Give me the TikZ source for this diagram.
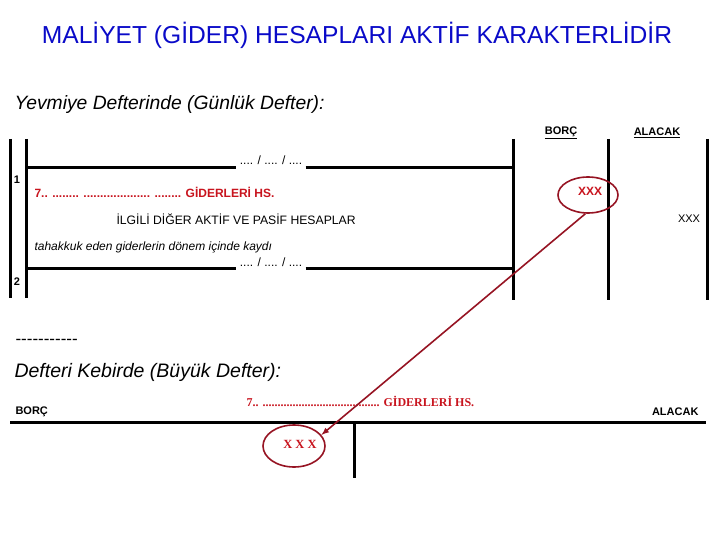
\documentclass[tikz,border=0pt]{standalone}
\usepackage{fontspec}
\setmainfont{Liberation Sans}
\newfontfamily\timesrm{Liberation Serif}
\usetikzlibrary{arrows,shapes,positioning}
\definecolor{titleblue}{RGB}{10,10,200}
\definecolor{hsred}{RGB}{200,20,30}
\definecolor{ovalred}{RGB}{150,20,35}
\tikzstyle{rule} = [line width=3pt]
\tikzstyle{oval} = [shape = ellipse, draw = ovalred, line width = 1.6pt, inner sep = 0pt]
\tikzstyle{head} = [font=\bfseries\fontsize{11}{13}\selectfont]
\tikzstyle{redHs} = [text = hsred, font=\bfseries\fontsize{12}{14}\selectfont]
\tikzstyle{datum} = [font=\fontsize{12}{14}\selectfont]
\tikzstyle{link} = [->, >=latex, color = ovalred, line width = 1.6pt]

\begin{document}
\begin{tikzpicture}[x=1pt, y=-1pt]
			\useasboundingbox (0,0) rectangle (720,540);
			% baslik
			\node (title) at (357,35) [text = titleblue, font=\fontsize{24.6}{28}\selectfont] {
				MALİYET (GİDER) HESAPLARI AKTİF KARAKTERLİDİR
			};
			\node (yevmiye) at (11,105) [anchor = west, font=\itshape\fontsize{19.3}{22}\selectfont] {
				Yevmiye Defterinde (Günlük Defter):
			};
			% yevmiye defteri
			\node (borcY) at (561,133) [head] {\underline{BORÇ}};
			\node (alacakY) at (657,133) [head] {\underline{ALACAK}};
			\draw[rule] (10,139) -- (10,298);
			\draw[rule] (26,139) -- (26,298);
			\draw[rule] (513,139) -- (513,300);
			\draw[rule] (608,139) -- (608,300);
			\draw[rule] (707,139) -- (707,300);
			\node (date1) at (271,160) [datum] {.... / .... / ....};
			\draw[rule] (26,168) -- (date1.south west |- 0,168);
			\draw[rule] (date1.south east |- 0,168) -- (513,168);
			\node (no1) at (17,180) [head] {1};
			\node (giderY) at (31,192) [anchor = west, redHs] {
				7.. ........ .................... ........ GİDERLERİ HS.
			};
			\node[oval, minimum width = 60, minimum height = 36] (xxxB) at (588,195) {};
			\node (xxxBt) at (590,191) [redHs] {XXX};
			\node (ilgili) at (113,219) [anchor = west, font=\fontsize{12.2}{14}\selectfont] {
				İLGİLİ DİĞER AKTİF VE PASİF HESAPLAR
			};
			\node (xxxA) at (689,219) [font=\fontsize{11}{13}\selectfont] {XXX};
			\node (aciklama) at (31,247) [anchor = west, font=\itshape\fontsize{12}{14}\selectfont] {
				tahakkuk eden giderlerin dönem içinde kaydı
			};
			\node (date2) at (271,262) [datum] {.... / .... / ....};
			\draw[rule] (26,268) -- (date2.south west |- 0,268);
			\draw[rule] (date2.south east |- 0,268) -- (513,268);
			\node (no2) at (17,282) [head] {2};
			% buyuk defter
			\node (cizgi) at (12,342) [anchor = west, font=\fontsize{17}{20}\selectfont] {-{}-{}-{}-{}-{}-{}-{}-{}-{}-{}-};
			\node (kebir) at (11,372) [anchor = west, font=\itshape\fontsize{19.5}{22}\selectfont] {
				Defteri Kebirde (Büyük Defter):
			};
			\node (borcK) at (12,412) [anchor = west, head] {BORÇ};
			\node (alacakK) at (702,412) [anchor = east, head] {ALACAK};
			\node (giderK) at (243,401) [anchor = west, text = hsred, font=\timesrm\bfseries\fontsize{12}{14}\selectfont] {
				7.. ....................................... GİDERLERİ HS.
			};
			\draw[rule] (10,422) -- (706,422);
			\draw[rule] (354,422) -- (354,478);
			\node[oval, minimum width = 62, minimum height = 42] (xxxK) at (294,446) {};
			\node (xxxKt) at (300,444) [text = hsred, font=\timesrm\bfseries\fontsize{12.5}{14}\selectfont] {X X X};
			\draw[link] (xxxB.262) -- (xxxK.22);
\end{tikzpicture}
\end{document}
